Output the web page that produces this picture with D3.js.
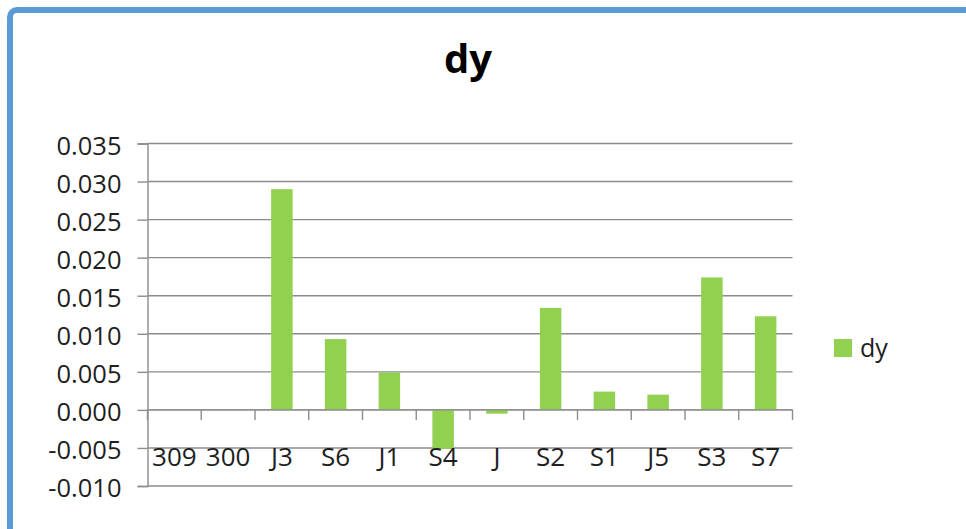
<!DOCTYPE html>
<html>
<head>
<meta charset="utf-8">
<script src="https://cdn.jsdelivr.net/npm/d3@7/dist/d3.min.js"></script>
<style>
  html, body { margin: 0; padding: 0; background: #fff; }
  svg { display: block; }
  text { font-family: "Open Sans", "DejaVu Sans", sans-serif; fill: #1e1e1e; }
</style>
</head>
<body>
<svg id="chart" width="966" height="529"></svg>
<script>
// Sample categories and their dy values
const categories = ["309", "300", "J3", "S6", "J1", "S4", "J", "S2", "S1", "J5", "S3", "S7"];
const dyValues = [0, 0, 0.029, 0.0093, 0.0049, -0.0051, -0.0005, 0.0134, 0.0024, 0.002, 0.0174, 0.0123];
const yTicks = [-0.010, -0.005, 0.000, 0.005, 0.010, 0.015, 0.020, 0.025, 0.030, 0.035];
const seriesName = "dy";
const titleText = "dy";

const svg = d3.select("#chart");
const W = 966, H = 529;

// Frame around the chart area
svg.append("rect")
  .attr("x", 10).attr("y", 10)
  .attr("width", W + 20).attr("height", H + 20)
  .attr("rx", 7).attr("ry", 7)
  .attr("fill", "#fff")
  .attr("stroke", "#5b9bd5")
  .attr("stroke-width", 6);

const plot = { left: 147.5, right: 792.5, top: 143.5, bottom: 486 };

const x = d3.scaleBand()
  .domain(categories)
  .range([plot.left, plot.right])
  .paddingInner(0.6)
  .paddingOuter(0.3);

const xBoundary = d3.scaleLinear()
  .domain([0, categories.length])
  .range([plot.left, plot.right]);

const y = d3.scaleLinear()
  .domain([d3.min(yTicks), d3.max(yTicks)])
  .range([plot.bottom, plot.top]);

const gridColor = "#8c8c8c";

// Horizontal gridlines
svg.append("g")
  .selectAll("line")
  .data(yTicks)
  .join("line")
  .attr("x1", plot.left).attr("x2", plot.right)
  .attr("y1", d => y(d)).attr("y2", d => y(d))
  .attr("stroke", gridColor)
  .attr("stroke-width", 1.4);

// Y axis
const yAxis = svg.append("g")
  .attr("transform", `translate(${plot.left},0)`)
  .call(d3.axisLeft(y).tickValues(yTicks).tickFormat(d3.format(".3f")).tickSize(10).tickPadding(16));
yAxis.select(".domain").attr("stroke", gridColor).attr("stroke-width", 1.4);
yAxis.selectAll(".tick line").attr("stroke", gridColor).attr("stroke-width", 1.4);
yAxis.selectAll(".tick text")
  .attr("font-family", "Open Sans, DejaVu Sans, sans-serif")
  .attr("font-size", 25.5)
  .attr("fill", "#1e1e1e")
  .attr("dy", "0.42em")
  .text(d => d3.format(".3f")(d).replace("−", "-"));

// Bars
svg.append("g")
  .selectAll("rect")
  .data(categories.map((c, i) => ({ c, v: dyValues[i] })))
  .join("rect")
  .attr("x", d => x(d.c))
  .attr("width", x.bandwidth())
  .attr("y", d => y(Math.max(0, d.v)))
  .attr("height", d => Math.abs(y(d.v) - y(0)))
  .attr("fill", "#92d050");

// Category axis along zero with tick marks between categories
svg.append("line")
  .attr("x1", plot.left).attr("x2", plot.right)
  .attr("y1", y(0)).attr("y2", y(0))
  .attr("stroke", gridColor).attr("stroke-width", 1.4);
svg.append("g")
  .selectAll("line")
  .data(d3.range(categories.length + 1))
  .join("line")
  .attr("x1", i => xBoundary(i)).attr("x2", i => xBoundary(i))
  .attr("y1", y(0)).attr("y2", y(0) + 10)
  .attr("stroke", gridColor).attr("stroke-width", 1.4);

// Category labels
svg.append("g")
  .selectAll("text")
  .data(categories)
  .join("text")
  .attr("x", d => x(d) + x.bandwidth() / 2)
  .attr("y", 466)
  .attr("text-anchor", "middle")
  .attr("font-size", 26)
  .text(d => d);

// Title
svg.append("text")
  .attr("x", 468).attr("y", 73)
  .attr("text-anchor", "middle")
  .attr("font-size", 40)
  .attr("font-weight", "bold")
  .style("fill", "#000")
  .text(titleText);

// Legend
const legend = svg.append("g").attr("transform", "translate(834,339)");
legend.append("rect").attr("width", 18).attr("height", 18).attr("fill", "#92d050");
legend.append("text").attr("x", 26).attr("y", 18).attr("font-size", 25).text(seriesName);
</script>
</body>
</html>
